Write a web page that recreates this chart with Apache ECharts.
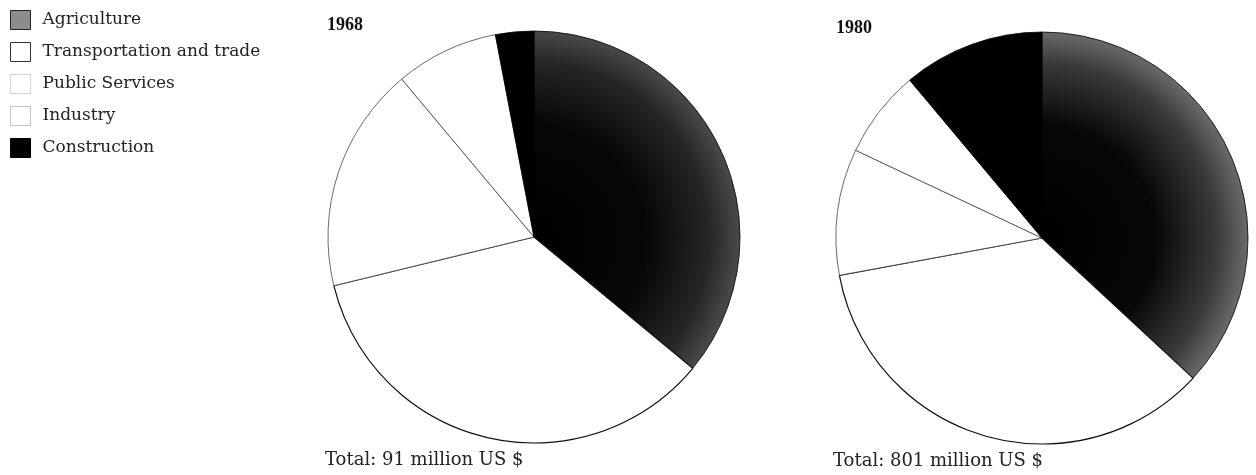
<!DOCTYPE html>
<html>
<head>
<meta charset="utf-8">
<script src="https://cdn.jsdelivr.net/npm/echarts@6/dist/echarts.min.js"></script>
<style>
html,body{margin:0;padding:0;background:#fff;}
#chart{width:1256px;height:475px;}
</style>
</head>
<body>
<div id="chart"></div>
<script>
const categories = ['Agriculture', 'Transportation and trade', 'Public Services', 'Industry', 'Construction'];
const values1968 = [36.0, 35.2, 17.7, 8.1, 3.0];
const values1980 = [36.9, 35.2, 9.9, 6.9, 11.1];
const years = ['1968', '1980'];
const totals = ['Total: 91 million US $', 'Total: 801 million US $'];

const SERIF = '"Liberation Serif", "DejaVu Serif", serif';
const WIDE_SERIF = '"DejaVu Serif", "Liberation Serif", serif';
const centers = [[534, 237], [1042, 238]];
const R = 206;

function agriFill(c, edge) {
  return {
    type: 'radial', x: c[0], y: c[1], r: R, global: true,
    colorStops: [
      { offset: 0, color: '#000' },
      { offset: 0.55, color: '#070707' },
      { offset: 0.85, color: edge[0] },
      { offset: 1, color: edge[1] }
    ]
  };
}

const sliceStyles = [
  null,
  { color: '#fff', borderColor: '#111', borderWidth: 1.2 },
  { color: '#fff', borderColor: '#444', borderWidth: 0.8 },
  { color: '#fff', borderColor: '#444', borderWidth: 0.8 },
  { color: '#000', borderColor: '#000', borderWidth: 0.8 }
];

function pieData(values, c, edge) {
  return categories.map((name, i) => ({
    name: name,
    value: values[i],
    itemStyle: i === 0 ? { color: agriFill(c, edge), borderColor: '#000', borderWidth: 0.8 } : sliceStyles[i]
  }));
}

const legendStyles = [
  { color: '#8c8c8c', borderColor: '#222', borderWidth: 1 },
  { color: '#fff', borderColor: '#333', borderWidth: 1 },
  { color: '#fff', borderColor: '#aaa', borderWidth: 1, borderType: 'dotted' },
  { color: '#fff', borderColor: '#888', borderWidth: 1, borderType: 'dotted' },
  { color: '#000', borderColor: '#000', borderWidth: 1 }
];

const chart = echarts.init(document.getElementById('chart'), null, { renderer: 'canvas' });
chart.setOption({
  backgroundColor: '#fff',
  animation: false,
  title: [
    { text: years[0], left: 322, top: 11, textStyle: { fontFamily: SERIF, fontWeight: 'bold', fontSize: 18, color: '#111' } },
    { text: years[1], left: 831, top: 14, textStyle: { fontFamily: SERIF, fontWeight: 'bold', fontSize: 18, color: '#111' } },
    { text: totals[0], left: 320, top: 446, textStyle: { fontFamily: WIDE_SERIF, fontWeight: 'normal', fontSize: 18, color: '#222' } },
    { text: totals[1], left: 828, top: 447, textStyle: { fontFamily: WIDE_SERIF, fontWeight: 'normal', fontSize: 18, color: '#222' } }
  ],
  legend: {
    orient: 'vertical',
    left: 5,
    top: 5,
    itemWidth: 20,
    itemHeight: 19,
    itemGap: 12,
    selectedMode: false,
    icon: 'rect',
    textStyle: { fontFamily: WIDE_SERIF, fontSize: 17, color: '#222', padding: [0, 0, 0, 7] },
    data: categories.map((n, i) => ({ name: n, itemStyle: legendStyles[i] }))
  },
  series: [
    {
      type: 'pie', center: centers[0], radius: R, startAngle: 90, clockwise: true,
      label: { show: false }, labelLine: { show: false }, emphasis: { disabled: true },
      silent: true,
      data: pieData(values1968, centers[0], ['#262626', '#4a4a4a'])
    },
    {
      type: 'pie', center: centers[1], radius: R, startAngle: 90, clockwise: true,
      label: { show: false }, labelLine: { show: false }, emphasis: { disabled: true },
      silent: true,
      data: pieData(values1980, centers[1], ['#3a3a3a', '#6a6a6a'])
    }
  ]
});
</script>
</body>
</html>
